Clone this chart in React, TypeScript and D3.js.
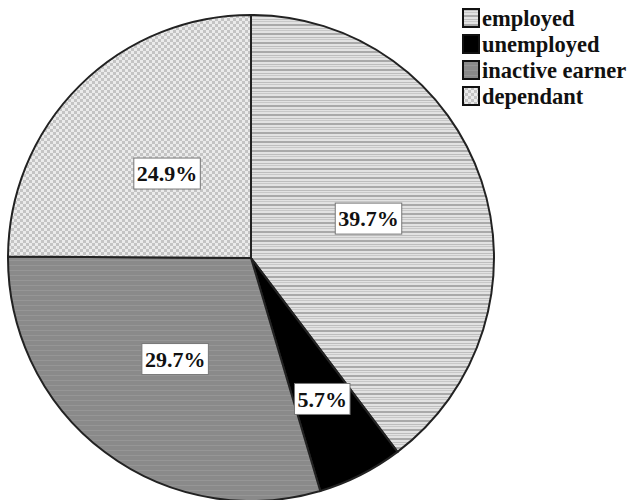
import React from "react";
import * as d3 from "d3";

const categories = ["employed", "unemployed", "inactive earner", "dependant"];
const values = [39.7, 5.7, 29.7, 24.9];
const valueLabels = ["39.7%", "5.7%", "29.7%", "24.9%"];
const fills = ["url(#pEmployed)", "#000000", "url(#pInactive)", "url(#pDependant)"];
const labelRadiusFactor = [0.51, 0.65, 0.52, 0.49];

const W = 634;
const H = 500;
const cx = 251;
const cy = 258;
const R = 243;
const LFS = 22;

function textWidth(s: string, fs: number) {
  let w = 0;
  for (const ch of s) {
    if (ch === ".") w += 0.25 * fs;
    else if (ch === "%") w += 1.0 * fs;
    else w += 0.5 * fs;
  }
  return w;
}

export default function App() {
  const pie = d3.pie<number>().sort(null).value((d) => d);
  const arcs = pie(values);
  const arcGen = d3.arc<d3.PieArcDatum<number>>().innerRadius(0).outerRadius(R);
  const font = "'Liberation Serif', 'Times New Roman', serif";

  return (
    <svg width={W} height={H} style={{ position: "absolute", left: 0, top: 0, background: "#fff" }}>
      <defs>
        <pattern id="pEmployed" patternUnits="userSpaceOnUse" width="8" height="9">
          <rect width="8" height="9" fill="#e2e2e2" />
          <rect y="0" width="8" height="2" fill="#a9a9a9" />
          <rect y="4" width="8" height="1" fill="#bdbdbd" />
          <rect y="6" width="8" height="1" fill="#c8c8c8" />
        </pattern>
        <pattern id="pInactive" patternUnits="userSpaceOnUse" width="8" height="5">
          <rect width="8" height="5" fill="#8a8a8a" />
          <rect y="2" width="8" height="1" fill="#969696" />
        </pattern>
        <pattern id="pDependant" patternUnits="userSpaceOnUse" width="6" height="6">
          <rect width="6" height="6" fill="#ebebeb" />
          <rect x="0" y="0" width="3" height="3" fill="#c4c4c4" />
          <rect x="3" y="3" width="3" height="3" fill="#c4c4c4" />
        </pattern>
      </defs>
      <g transform={`translate(${cx},${cy})`}>
        {arcs.map((a, i) => (
          <path key={categories[i]} d={arcGen(a) || ""} fill={fills[i]} stroke="#222" strokeWidth={2} />
        ))}
        {arcs.map((a, i) => {
          const mid = (a.startAngle + a.endAngle) / 2;
          const r = R * labelRadiusFactor[i];
          const x = Math.sin(mid) * r;
          const y = -Math.cos(mid) * r;
          const bw = textWidth(valueLabels[i], LFS) + 6;
          const bh = 31;
          return (
            <g key={"l" + i} transform={`translate(${x},${y})`}>
              <rect x={-bw / 2} y={-bh / 2} width={bw} height={bh} fill="#fff" stroke="#777" strokeWidth={1} />
              <text textAnchor="middle" dy="0.35em" fontFamily={font} fontWeight="bold" fontSize={LFS} fill="#111">
                {valueLabels[i]}
              </text>
            </g>
          );
        })}
      </g>
      <g transform="translate(462,6)">
        {categories.map((c, i) => (
          <g key={c} transform={`translate(0,${i * 26})`}>
            <rect x={1} y={3} width={16} height={18} fill={fills[i]} stroke="#111" strokeWidth={2} />
            <text x={20} y={20} fontFamily={font} fontWeight="bold" fontSize={22.5} fill="#111">
              {c}
            </text>
          </g>
        ))}
      </g>
    </svg>
  );
}
